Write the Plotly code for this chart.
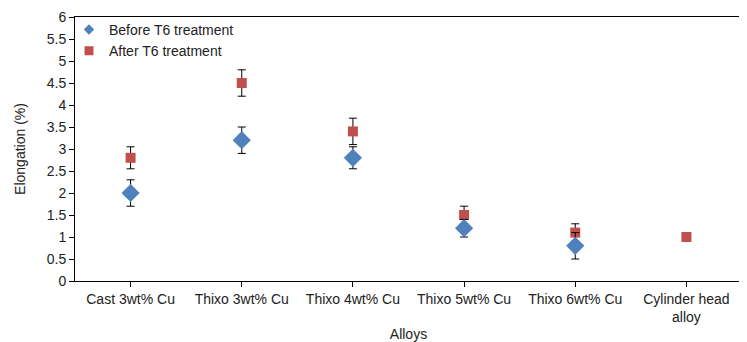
import plotly.graph_objects as go

categories = ["Cast 3wt% Cu", "Thixo 3wt% Cu", "Thixo 4wt% Cu", "Thixo 5wt% Cu", "Thixo 6wt% Cu", "Cylinder head<br>alloy"]
before_vals = [2.0, 3.2, 2.8, 1.2, 0.8, None]
before_err = [0.3, 0.3, 0.25, 0.2, 0.3, 0]
after_vals = [2.8, 4.5, 3.4, 1.5, 1.1, 1.0]
after_err = [0.25, 0.3, 0.3, 0.2, 0.2, 0]
y_ticks = [0, 0.5, 1, 1.5, 2, 2.5, 3, 3.5, 4, 4.5, 5, 5.5, 6]

BLUE = "#4F81BD"
RED = "#C0504D"

fig = go.Figure()
fig.add_trace(go.Scatter(
    x=categories, y=after_vals, mode="markers", name="After T6 treatment", showlegend=False,
    marker=dict(symbol="square", size=10, color=RED),
    error_y=dict(type="data", array=after_err, color="black", thickness=1, width=4),
))
fig.add_trace(go.Scatter(
    x=categories, y=before_vals, mode="markers", name="Before T6 treatment", showlegend=False,
    marker=dict(symbol="diamond", size=14, color=BLUE),
    error_y=dict(type="data", array=before_err, color="black", thickness=1, width=4),
))
# legend entries (small symbols, like the reference)
fig.add_trace(go.Scatter(x=[None], y=[None], mode="markers", name="Before T6 treatment",
                         marker=dict(symbol="diamond", size=8, color=BLUE)))
fig.add_trace(go.Scatter(x=[None], y=[None], mode="markers", name="After T6 treatment",
                         marker=dict(symbol="square", size=9, color=RED)))

font = dict(family="Liberation Sans, Arial, sans-serif", size=14, color="#222222")
fig.update_layout(
    width=739, height=334,
    margin=dict(l=67, r=5, t=9, b=61),
    paper_bgcolor="white", plot_bgcolor="white",
    font=font,
    showlegend=True,
    legend=dict(x=-0.009, y=1.012, xanchor="left", yanchor="top",
                bgcolor="rgba(0,0,0,0)", font=font, itemwidth=30),
    xaxis=dict(type="category", range=[-0.5, 5.5], showline=True, linecolor="black", linewidth=1,
               mirror=True, ticks="outside", ticklen=5, tickcolor="black", automargin=False,
               title=dict(text="Alloys", font=font, standoff=18), showgrid=False),
    yaxis=dict(range=[0, 6], tickvals=y_ticks, ticktext=[("%g" % v) for v in y_ticks],
               showline=True, linecolor="black", linewidth=1, mirror=True, automargin=False,
               ticks="outside", ticklen=5, tickcolor="black", showgrid=False, zeroline=False,
               title=dict(text="Elongation (%)", font=font, standoff=17)),
)
fig.write_html("out.html")
